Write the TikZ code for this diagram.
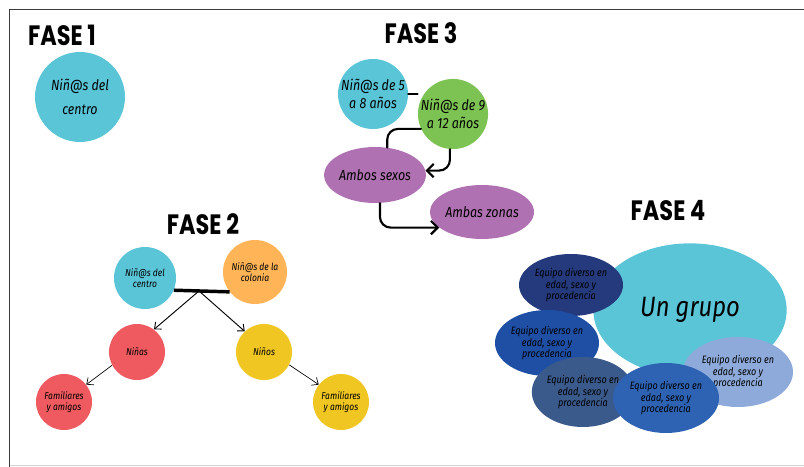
\documentclass[tikz,border=0pt]{standalone}
\usepackage{fontspec}
\setmainfont{Fira Sans}
\newfontfamily\fasefont[FakeStretch=0.8]{Poppins}
\newfontfamily\handfont[FakeStretch=0.85]{Fira Sans}
\usetikzlibrary{shapes.geometric,arrows.meta}

\definecolor{cyanblob}{HTML}{5BC5D8}
\definecolor{greenblob}{HTML}{7CC353}
\definecolor{orangeblob}{HTML}{FFB457}
\definecolor{redblob}{HTML}{EE5A5F}
\definecolor{yellowblob}{HTML}{F0C623}
\definecolor{purpleblob}{HTML}{B071B2}
\definecolor{navyblob}{HTML}{243A7C}
\definecolor{blueblob}{HTML}{1F4FA5}
\definecolor{slateblob}{HTML}{3B5A8C}
\definecolor{midblob}{HTML}{2E63B4}
\definecolor{lightblob}{HTML}{8EAADB}
\definecolor{framegray}{HTML}{3C3C3C}

\begin{document}
\begin{tikzpicture}[x=0.75pt,y=-0.75pt,
   fase/.style={font=\fasefont\bfseries\fontsize{21}{21}\selectfont},
   blob/.style={circle,fill=#1,inner sep=0pt,align=center},
   oval/.style={ellipse,fill=#1,inner sep=0pt,align=center},
   big/.style={font=\handfont\itshape\fontsize{11}{13}\selectfont},
   small/.style={font=\handfont\itshape\fontsize{7.5}{8}\selectfont},
   tiny/.style={font=\handfont\itshape\fontsize{8}{8.8}\selectfont},
   link/.style={line width=1.6pt,line cap=round},
   twig/.style={line width=0.7pt,-{Straight Barb[length=4pt,width=7pt]}}]
   \useasboundingbox (0,0) rectangle (804,467);
   % frame of the page
   \draw [framegray,line width=1.1pt] (9.5,467) -- (9.5,9.5) -- (804,9.5);
   \draw [black!18,line width=1pt] (9.5,465.5) -- (804,465.5);

   % titles of the four phases
   \node [fase] (fase1) at (62,35) {FASE 1};
   \node [fase] (fase2) at (203,224) {FASE 2};
   \node [fase] (fase3) at (421,33) {FASE 3};
   \node [fase] (fase4) at (668,211) {FASE 4};

   % phase 1: a single group
   \node [blob=cyanblob,minimum size=67.5pt,big,font=\handfont\itshape\fontsize{11}{18}\selectfont]
   (centro) at (80,97) {Niñ@s del\\centro};

   % phase 3: ages, then sexes, then zones
   \node [blob=cyanblob,minimum size=52.5pt,big] (edad5) at (373,94) {Niñ@s de 5\\a 8 años};
   \node [blob=greenblob,minimum size=48pt,big] (edad9) at (453,114) {Niñ@s de 9\\a 12 años};
   \node [oval=purpleblob,minimum width=67.5pt,minimum height=42pt,big] (sexos) at (375,175) {Ambos sexos};
   \node [oval=purpleblob,minimum width=63pt,minimum height=40.5pt,big] (zonas) at (482,212) {Ambas zonas};
   \draw [link] (edad5.east) -- (edad9.west |- edad5.east);
   \draw [link,rounded corners=8pt] (edad9.205) -| (sexos.66);
   \draw [link,rounded corners=8pt,-{Straight Barb[length=5pt,width=10pt]}] (edad9.-95) |- (sexos.5);
   \draw [link,rounded corners=8pt,-{Straight Barb[length=5pt,width=10pt]}] (sexos.-80) |- (zonas.200);

   % phase 2: centre and colony, split by sex, then families
   \node [blob=cyanblob,minimum size=46.5pt,small] (centro2) at (145,278) {Niñ@s del\\centro};
   \node [blob=orangeblob,minimum size=48pt,small] (colonia) at (255,272) {Niñ@s de la\\colonia};
   \node [blob=redblob,minimum size=42pt,small] (ninas) at (137,352) {Niñas};
   \node [blob=yellowblob,minimum size=42pt,small] (ninos) at (264,352) {Niños};
   \node [blob=redblob,minimum size=42pt,small] (familia1) at (64,402) {Familiares\\y amigos};
   \node [blob=yellowblob,minimum size=42pt,small] (familia2) at (341,402) {Familiares\\y amigos};
   \draw [line width=2.6pt] (centro2.-23) -- (colonia.-142);
   \coordinate (split) at (199,291);
   \draw [twig] (split) -- (ninas.53);
   \draw [twig] (split) -- (ninos.133);
   \draw [twig,line width=0.5pt] (ninas.-152) -- (familia1.38);
   \draw [twig,line width=0.5pt] (ninos.-27) -- (familia2.142);

   % phase 4: one group made of diverse teams
   \node [oval=cyanblob,minimum width=145pt,minimum height=100pt,
          font=\handfont\itshape\fontsize{21}{21}\selectfont] (grupo) at (690,310) {Un grupo};
   \foreach \col/\px/\py/\w/\h [count=\i] in
      {navyblob/571/285/78/46.5,blueblob/547/343/78/49.5,slateblob/583/392/72/52.5,
       lightblob/738/372/82.5/52.5,midblob/666/398/79.5/52.5}
      \node [oval=\col,minimum width=\w pt,minimum height=\h pt,tiny]
      (equipo\i) at (\px,\py) {Equipo diverso en\\edad, sexo y\\procedencia};
\end{tikzpicture}
\end{document}
